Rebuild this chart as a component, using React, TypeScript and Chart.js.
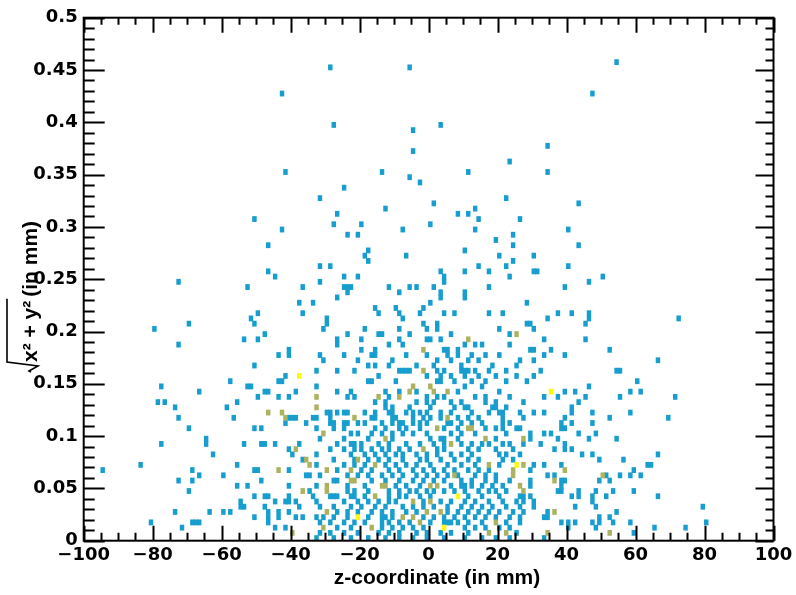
import React, { useEffect, useRef } from "react";
import { Chart, registerables } from "chart.js";
Chart.register(...registerables);

// ---- axis definitions ----
const xMin = -100;
const xMax = 100;
const yMin = 0;
const yMax = 0.5;
const xTickValues = [-100, -80, -60, -40, -20, 0, 20, 40, 60, 80, 100];
const xTickLabels = ["\u2212100", "\u221280", "\u221260", "\u221240", "\u221220", "0", "20", "40", "60", "80", "100"];
const yTickValues = [0, 0.05, 0.1, 0.15, 0.2, 0.25, 0.3, 0.35, 0.4, 0.45, 0.5];
const yTickLabels = ["0", "0.05", "0.1", "0.15", "0.2", "0.25", "0.3", "0.35", "0.4", "0.45", "0.5"];
const xTitle = "z-coordinate (in mm)";
const yTitleRadicand = "x\u00B2 + y\u00B2";
const yTitleUnit = "(in mm)";

// histogram bin sizes
const binZ = 1;
const binR = 0.005;

// ---- cell contents: [r bin centre, z bin centres] ----
const cellsCount1: [number, number[]][] = [
  [0.4575, [54.5]],
  [0.4525, [-28.5, -5.5]],
  [0.4275, [-42.5, 47.5]],
  [0.3975, [-27.5, 3.5]],
  [0.3925, [-4.5]],
  [0.3775, [34.5]],
  [0.3725, [-4.5]],
  [0.3625, [23.5]],
  [0.3525, [-41.5, -13.5, 11.5, 34.5]],
  [0.3475, [-5.5]],
  [0.3425, [-2.5]],
  [0.3375, [-24.5]],
  [0.3275, [-31.5, 22.5]],
  [0.3225, [1.5, 43.5]],
  [0.3175, [-12.5, 13.5]],
  [0.3125, [-26.5, 8.5, 11.5]],
  [0.3075, [-50.5, 14.5, 26.5]],
  [0.3025, [-27.5, -19.5, 0.5]],
  [0.2975, [-42.5, -7.5, 13.5, 40.5]],
  [0.2925, [-23.5, -20.5, 24.5]],
  [0.2875, [19.5]],
  [0.2825, [-46.5, 24.5, 43.5]],
  [0.2775, [-17.5, 10.5]],
  [0.2725, [-18.5, -6.5, 20.5, 30.5]],
  [0.2675, [-17.5, 24.5]],
  [0.2625, [-31.5, -28.5, 14.5, 22.5, 40.5]],
  [0.2575, [-46.5, 3.5, 10.5, 17.5, 30.5, 31.5]],
  [0.2525, [-44.5, -24.5, -20.5, 4.5, 23.5, 50.5]],
  [0.2475, [-72.5, -31.5, 4.5, 46.5]],
  [0.2425, [-52.5, -36.5, -24.5, -23.5, -22.5, -11.5, -5.5, -3.5, 1.5, 17.5, 39.5]],
  [0.2375, [-23.5, -8.5, 3.5, 10.5]],
  [0.2325, [-26.5, 3.5, 10.5]],
  [0.2275, [-37.5, -33.5, 0.5, 28.5]],
  [0.2225, [-15.5, -9.5, -1.5]],
  [0.2175, [-49.5, -36.5, -14.5, -8.5, -2.5, 4.5, 7.5, 17.5, 21.5, 37.5, 41.5, 46.5]],
  [0.2125, [-51.5, -29.5, -7.5, 34.5, 46.5, 72.5]],
  [0.2075, [-69.5, -50.5, -29.5, -1.5, 2.5, 28.5, 29.5, 45.5]],
  [0.2025, [-79.5, -30.5, -18.5, -8.5, -0.5, 2.5, 20.5, 30.5]],
  [0.1975, [-47.5, -23.5, -14.5, -13.5, -5.5, 6.5, 23.5]],
  [0.1925, [-53.5, -49.5, -26.5, -19.5, -8.5, -0.5, 0.5, 3.5, 33.5, 45.5]],
  [0.1875, [-72.5, -26.5, -11.5, -7.5, 10.5, 13.5, 15.5, 23.5]],
  [0.1825, [-40.5, -19.5, -15.5, 4.5, 5.5, 8.5, 29.5, 30.5, 35.5, 52.5]],
  [0.1775, [-43.5, -40.5, -31.5, -24.5, -16.5, -15.5, -6.5, -0.5, 5.5, 8.5, 12.5, 16.5, 20.5, 33.5, 39.5]],
  [0.1725, [-30.5, -20.5, -10.5, 2.5, 6.5, 11.5, 14.5, 26.5, 30.5, 66.5]],
  [0.1675, [-50.5, -17.5, -15.5, -11.5, -3.5, 1.5, 9.5, 18.5, 25.5]],
  [0.1625, [-32.5, -26.5, -21.5, -8.5, -7.5, -6.5, -5.5, 2.5, 4.5, 9.5, 10.5, 11.5, 13.5, 17.5, 22.5, 32.5, 54.5, 55.5]],
  [0.1575, [-41.5, -14.5, -0.5, 3.5, 6.5, 10.5, 14.5, 19.5, 25.5, 30.5]],
  [0.1525, [-57.5, -43.5, -42.5, -17.5, -16.5, -9.5, 2.5, 3.5, 7.5, 12.5, 16.5, 22.5, 28.5, 60.5]],
  [0.1475, [-77.5, -52.5, -51.5, -32.5, 10.5, 15.5, 46.5]],
  [0.1425, [-66.5, -47.5, -46.5, -38.5, -26.5, -22.5, -12.5, -8.5, -3.5, 8.5, 20.5, 39.5, 42.5, 58.5, 61.5]],
  [0.1375, [-49.5, -43.5, -40.5, -23.5, -21.5, -11.5, -0.5, 2.5, 4.5, 13.5, 16.5, 23.5, 33.5, 37.5, 45.5, 55.5, 71.5]],
  [0.1325, [-78.5, -76.5, -55.5, -15.5, -12.5, -3.5, -0.5, 1.5, 6.5, 9.5, 16.5, 19.5, 27.5, 43.5]],
  [0.1275, [-73.5, -58.5, -12.5, -10.5, -5.5, 0.5, 7.5, 10.5, 11.5, 18.5, 19.5, 22.5, 41.5]],
  [0.1225, [-29.5, -28.5, -26.5, -24.5, -23.5, -18.5, -15.5, -11.5, -10.5, -6.5, -4.5, -2.5, -0.5, 3.5, 6.5, 12.5, 17.5, 20.5, 21.5, 26.5, 30.5, 33.5, 41.5, 47.5, 58.5]],
  [0.1175, [-72.5, -56.5, -40.5, -39.5, -38.5, -33.5, -32.5, -28.5, -16.5, -15.5, -10.5, -9.5, -4.5, -1.5, 0.5, 3.5, 8.5, 11.5, 14.5, 21.5, 27.5, 39.5, 52.5, 69.5]],
  [0.1125, [-41.5, -35.5, -28.5, -27.5, -24.5, -23.5, -20.5, -18.5, -13.5, -10.5, -8.5, -7.5, -4.5, -2.5, -0.5, 5.5, 6.5, 9.5, 12.5, 15.5, 21.5, 23.5, 38.5, 41.5, 47.5]],
  [0.1075, [-69.5, -50.5, -48.5, -32.5, -27.5, -24.5, -15.5, -12.5, -8.5, -6.5, -2.5, 4.5, 8.5, 16.5, 19.5, 21.5, 25.5, 26.5, 38.5, 39.5]],
  [0.1025, [-22.5, -20.5, -16.5, -13.5, -10.5, -7.5, -4.5, -0.5, 6.5, 9.5, 13.5, 22.5, 29.5, 33.5, 35.5, 43.5, 48.5]],
  [0.0975, [-64.5, -31.5, -24.5, -17.5, -10.5, 0.5, 3.5, 4.5, 8.5, 19.5, 29.5, 37.5, 46.5, 54.5]],
  [0.0925, [-77.5, -64.5, -53.5, -48.5, -47.5, -44.5, -37.5, -26.5, -22.5, -21.5, -19.5, -14.5, -11.5, -6.5, -2.5, 1.5, 4.5, 9.5, 12.5, 15.5, 17.5, 21.5, 23.5, 27.5, 32.5, 39.5]],
  [0.0875, [-40.5, -28.5, -24.5, -21.5, -19.5, -16.5, -13.5, -11.5, -8.5, -5.5, 2.5, 4.5, 11.5, 14.5, 19.5, 24.5, 36.5, 39.5, 41.5]],
  [0.0825, [-62.5, -39.5, -32.5, -22.5, -18.5, -15.5, -12.5, -9.5, -7.5, -3.5, -0.5, 2.5, 6.5, 9.5, 12.5, 20.5, 22.5, 26.5, 44.5, 47.5, 66.5]],
  [0.0775, [-36.5, -27.5, -21.5, -17.5, -14.5, -11.5, -7.5, -2.5, -0.5, 3.5, 7.5, 11.5, 14.5, 21.5, 24.5, 49.5, 56.5]],
  [0.0725, [-83.5, -55.5, -32.5, -24.5, -21.5, -18.5, -12.5, -9.5, -6.5, -3.5, 0.5, 5.5, 9.5, 13.5, 20.5, 30.5, 33.5, 38.5, 63.5, 64.5]],
  [0.0675, [-94.5, -68.5, -50.5, -49.5, -40.5, -26.5, -19.5, -16.5, -11.5, -8.5, -4.5, -1.5, 1.5, 4.5, 7.5, 11.5, 14.5, 17.5, 29.5, 59.5]],
  [0.0625, [-66.5, -59.5, -35.5, -34.5, -31.5, -23.5, -20.5, -17.5, -13.5, -10.5, -7.5, -3.5, -0.5, 2.5, 5.5, 8.5, 13.5, 16.5, 19.5, 34.5, 36.5, 51.5, 55.5, 58.5, 61.5]],
  [0.0575, [-72.5, -68.5, -48.5, -27.5, -26.5, -16.5, -12.5, -8.5, -4.5, -1.5, 1.5, 4.5, 9.5, 12.5, 16.5, 19.5, 23.5, 29.5, 38.5, 39.5, 49.5, 52.5]],
  [0.0525, [-55.5, -52.5, -40.5, -32.5, -23.5, -18.5, -9.5, -6.5, -2.5, 6.5, 9.5, 10.5, 12.5, 15.5, 18.5, 21.5, 29.5, 38.5]],
  [0.0475, [-69.5, -34.5, -23.5, -21.5, -17.5, -11.5, -8.5, -5.5, -3.5, -0.5, 1.5, 4.5, 7.5, 10.5, 14.5, 17.5, 19.5, 22.5, 37.5, 38.5, 43.5, 48.5, 53.5, 59.5]],
  [0.0425, [-50.5, -47.5, -46.5, -40.5, -33.5, -28.5, -27.5, -26.5, -22.5, -21.5, -18.5, -11.5, -8.5, -6.5, -2.5, 0.5, 11.5, 15.5, 20.5, 26.5, 27.5, 29.5, 41.5, 43.5, 47.5, 51.5, 66.5]],
  [0.0375, [-54.5, -44.5, -41.5, -40.5, -38.5, -32.5, -24.5, -20.5, -17.5, -14.5, -11.5, -9.5, -1.5, 3.5, 6.5, 10.5, 13.5, 17.5, 21.5, 25.5, 27.5, 30.5, 47.5]],
  [0.0325, [-54.5, -53.5, -47.5, -37.5, -31.5, -27.5, -22.5, -19.5, -15.5, -12.5, -7.5, -4.5, -1.5, 1.5, 5.5, 9.5, 12.5, 15.5, 18.5, 22.5, 26.5, 30.5, 42.5, 48.5, 79.5]],
  [0.0275, [-73.5, -63.5, -59.5, -57.5, -46.5, -43.5, -40.5, -26.5, -23.5, -20.5, -16.5, -13.5, -10.5, -6.5, -3.5, 5.5, 8.5, 11.5, 14.5, 17.5, 20.5, 24.5, 27.5, 34.5, 54.5]],
  [0.0225, [-50.5, -46.5, -43.5, -38.5, -36.5, -32.5, -30.5, -27.5, -23.5, -17.5, -13.5, -12.5, -10.5, -1.5, 1.5, 4.5, 7.5, 10.5, 13.5, 16.5, 19.5, 23.5, 26.5, 33.5, 34.5, 49.5, 52.5]],
  [0.0175, [-80.5, -68.5, -67.5, -66.5, -46.5, -31.5, -28.5, -24.5, -21.5, -18.5, -13.5, -11.5, -8.5, -5.5, 0.5, 4.5, 5.5, 6.5, 8.5, 11.5, 15.5, 22.5, 26.5, 38.5, 40.5, 42.5, 47.5, 49.5, 53.5, 58.5, 80.5]],
  [0.0125, [-71.5, -44.5, -41.5, -26.5, -22.5, -13.5, -10.5, -7.5, -4.5, -1.5, 10.5, 13.5, 16.5, 20.5, 23.5, 40.5, 48.5, 65.5, 74.5]],
  [0.0075, [-31.5, -28.5, -24.5, -20.5, -14.5, -11.5, -8.5, -3.5, -0.5, 3.5, 6.5, 11.5, 25.5, 59.5]],
  [0.0025, [-32.5, -27.5, -22.5, -17.5, -12.5, -8.5, -4.5, -0.5, 4.5, 10.5, 15.5, 19.5, 23.5, 33.5]],
];

const cellsCount2: [number, number[]][] = [
  [0.1975, [25.5]],
  [0.1925, [11.5]],
  [0.1825, [-1.5]],
  [0.1625, [-1.5]],
  [0.1475, [-4.5, 0.5]],
  [0.1425, [-5.5, 1.5, 5.5]],
  [0.1375, [-32.5, -14.5, -8.5]],
  [0.1275, [-32.5]],
  [0.1225, [-46.5, -42.5]],
  [0.1175, [-41.5, -21.5, 5.5]],
  [0.1075, [2.5, 11.5, 12.5]],
  [0.1025, [-30.5]],
  [0.0975, [-12.5, 16.5, 27.5]],
  [0.0925, [6.5]],
  [0.0875, [-38.5, -1.5]],
  [0.0775, [-35.5, -20.5]],
  [0.0725, [-34.5, -15.5, 17.5, 27.5]],
  [0.0675, [-43.5, -29.5, -22.5, 24.5, 39.5]],
  [0.0625, [7.5, 24.5, 50.5]],
  [0.0575, [-22.5, -21.5, 36.5]],
  [0.0525, [-29.5, -13.5, -12.5, 0.5, 2.5, 26.5]],
  [0.0475, [-36.5, -29.5, 27.5]],
  [0.0425, [-15.5]],
  [0.0375, [-4.5, 0.5]],
  [0.0275, [-29.5, -0.5, 3.5, 36.5]],
  [0.0225, [-7.5, -4.5]],
  [0.0175, [-2.5, 19.5]],
  [0.0125, [-30.5, -16.5]],
  [0.0075, [-39.5, 17.5, 22.5, 34.5, 52.5]],
];

const cellsCount3: [number, number[]][] = [
  [0.1575, [-37.5]],
  [0.1425, [35.5]],
  [0.0725, [25.5]],
  [0.0425, [8.5]],
  [0.0225, [-20.5]],
  [0.0125, [4.5]],
];

// palette colours for bin contents 1, 2, 3
const colorCount1 = "rgb(24,158,206)";
const colorCount2 = "rgb(172,178,96)";
const colorCount3 = "rgb(250,250,12)";

function toPoints(rows: [number, number[]][]) {
  const pts: { x: number; y: number }[] = [];
  for (const [r, zs] of rows) for (const z of zs) pts.push({ x: z, y: r });
  return pts;
}

const cellPlugin = {
  id: "cells",
  afterDatasetsDraw(chart: any) {
    const { ctx } = chart;
    const xs = chart.scales.x;
    const ys = chart.scales.y;
    ctx.save();
    chart.data.datasets.forEach((ds: any) => {
      ctx.fillStyle = ds.backgroundColor;
      for (const p of ds.data) {
        const x0 = xs.getPixelForValue(p.x - binZ / 2) - 0.5;
        const x1 = xs.getPixelForValue(p.x + binZ / 2) + 0.5;
        const y0 = ys.getPixelForValue(p.y + binR / 2) - 0.3;
        const y1 = ys.getPixelForValue(p.y - binR / 2) + 0.3;
        ctx.fillRect(x0, y0, x1 - x0, y1 - y0);
      }
    });
    ctx.restore();
  },
};

const framePlugin = {
  id: "rootFrame",
  afterDraw(chart: any) {
    const { ctx, chartArea: a } = chart;
    const xs = chart.scales.x;
    const ys = chart.scales.y;
    ctx.save();
    ctx.strokeStyle = "#000";
    ctx.lineWidth = 2;
    ctx.lineCap = "butt";
    ctx.strokeRect(a.left, a.top, a.right - a.left, a.bottom - a.top);

    ctx.beginPath();
    for (let i = 0; i <= 40; i++) {
      const v = xMin + i * 5;
      const px = Math.round(xs.getPixelForValue(v)) + 0.5;
      const major = i % 4 === 0;
      const lb = major ? 15 : 8;
      const lt = major ? 15 : 7;
      ctx.moveTo(px, a.bottom);
      ctx.lineTo(px, a.bottom - lb);
      ctx.moveTo(px, a.top);
      ctx.lineTo(px, a.top + lt);
    }
    for (let i = 0; i <= 50; i++) {
      const v = i * 0.01;
      const py = Math.round(ys.getPixelForValue(v)) + 0.5;
      const major = i % 5 === 0;
      const ll = major ? 21 : 11;
      const lr = major ? 18 : 8;
      ctx.moveTo(a.left, py);
      ctx.lineTo(a.left + ll, py);
      ctx.moveTo(a.right, py);
      ctx.lineTo(a.right - lr, py);
    }
    ctx.stroke();

    ctx.fillStyle = "#000";
    ctx.font = 'bold 18px "DejaVu Sans"';
    ctx.textAlign = "center";
    ctx.textBaseline = "top";
    xTickValues.forEach((v, i) => {
      ctx.fillText(xTickLabels[i], xs.getPixelForValue(v), a.bottom + 6);
    });
    ctx.textAlign = "right";
    ctx.textBaseline = "middle";
    yTickValues.forEach((v, i) => {
      ctx.fillText(yTickLabels[i], a.left - 6, ys.getPixelForValue(v));
    });

    ctx.font = 'bold 21px "Liberation Sans"';
    ctx.textAlign = "center";
    ctx.textBaseline = "alphabetic";
    ctx.fillText(xTitle, 437, 584);

    ctx.save();
    ctx.translate(37, 362);
    ctx.rotate(-Math.PI / 2);
    ctx.textAlign = "left";
    ctx.textBaseline = "alphabetic";
    ctx.font = 'bold 21px "Liberation Sans"';
    ctx.fillText(yTitleRadicand, 0, 0);
    const w = ctx.measureText(yTitleRadicand).width;
    ctx.fillText(yTitleUnit, w + 4, 0);
    ctx.lineWidth = 1.6;
    ctx.beginPath();
    ctx.moveTo(w + 2, -30);
    ctx.lineTo(0, -30);
    ctx.lineTo(-4, 1);
    ctx.lineTo(-9, -8);
    ctx.lineTo(-10, -6);
    ctx.stroke();
    ctx.restore();

    ctx.restore();
  },
};

export default function App() {
  const ref = useRef<HTMLCanvasElement | null>(null);
  useEffect(() => {
    if (!ref.current) return;
    const chart = new Chart(ref.current, {
      type: "scatter",
      data: {
        datasets: [
          { label: "1", data: toPoints(cellsCount1), backgroundColor: colorCount1, pointRadius: 0 },
          { label: "2", data: toPoints(cellsCount2), backgroundColor: colorCount2, pointRadius: 0 },
          { label: "3", data: toPoints(cellsCount3), backgroundColor: colorCount3, pointRadius: 0 },
        ],
      },
      options: {
        animation: false,
        responsive: false,
        devicePixelRatio: 1,
        layout: { padding: { left: 83.7, right: 22.5, top: 17.7, bottom: 54.3 } },
        scales: {
          x: { type: "linear", min: xMin, max: xMax, display: false },
          y: { type: "linear", min: yMin, max: yMax, display: false },
        },
        plugins: { legend: { display: false }, tooltip: { enabled: false } },
        events: [],
      },
      plugins: [cellPlugin, framePlugin],
    });
    return () => chart.destroy();
  }, []);
  return (
    <div style={{ position: "absolute", left: 0, top: 0, width: 796, height: 595, background: "#fff" }}>
      <canvas ref={ref} width={796} height={595} style={{ display: "block" }} />
    </div>
  );
}
